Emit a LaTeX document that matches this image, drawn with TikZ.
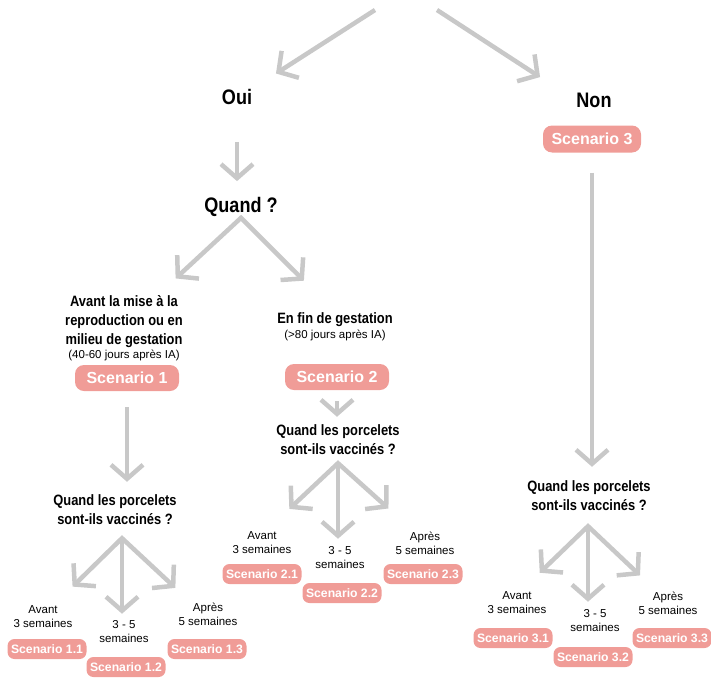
\documentclass[tikz,border=0pt]{standalone}
\usepackage{fontspec}
\setmainfont{Liberation Sans}
\newfontfamily\headfont[FakeStretch=0.86]{Liberation Sans}
\usetikzlibrary{positioning}
\usetikzlibrary{arrows.meta}
\definecolor{salmon}{HTML}{F09C97}
\definecolor{arrgray}{HTML}{C8C8C8}

\begin{document}
\begin{tikzpicture}[x=1pt,y=-1pt,
        head/.style={font=\headfont\bfseries\fontsize{21}{24}\selectfont, inner sep=1pt},
        quest/.style={font=\headfont\bfseries\fontsize{15}{19}\selectfont, align=center, inner sep=1pt},
        note/.style={font=\fontsize{11.5}{14}\selectfont, align=center, inner sep=1pt},
        scen/.style={rectangle,rounded corners=9pt,fill=salmon,text=white,font=\bfseries\fontsize{16}{16}\selectfont,minimum width=104pt,minimum height=26pt,inner sep=0pt},
        subscen/.style={scen,rounded corners=7pt,font=\bfseries\fontsize{12.2}{12}\selectfont,minimum width=79pt,minimum height=20pt},
        arr/.style={draw=arrgray,line width=4.5pt,-{Straight Barb[length=14pt,width=32pt]}},
        arrs/.style={arr,{Straight Barb[length=14pt,width=32pt]}-{Straight Barb[length=14pt,width=32pt]}}
        ]
        \useasboundingbox (0,0) rectangle (711,677);
        \node (oui) [head] at (237,97) {Oui};
        \node (non) [head] at (594,100) {Non};
        \node (sc3) [scen,minimum width=98pt,minimum height=27pt] at (592,139) {Scenario 3};
        \node (quand) [head] at (241,207) {Quand ?};
        \node (avant) [quest] at (124,322) {Avant la mise à la\\reproduction ou en\\milieu de gestation};
        \node (avnote) [note,below=0pt of avant] {(40-60 jours après IA)};
        \node (sc1) [scen] at (127,378) {Scenario 1};
        \node (fin) [quest] at (335,320) {En fin de gestation};
        \node (finnote) [note,below=1pt of fin] {(>80 jours après IA)};
        \node (sc2) [scen] at (337,377) {Scenario 2};
        \node (q1) [quest] at (115,510) {Quand les porcelets\\sont-ils vaccinés ?};
        \node (q2) [quest] at (338,440) {Quand les porcelets\\sont-ils vaccinés ?};
        \node (q3) [quest] at (589,496) {Quand les porcelets\\sont-ils vaccinés ?};
        \node (l11) [note] at (43,617) {Avant\\3 semaines};
        \node (l12) [note] at (124,632) {3 - 5\\semaines};
        \node (l13) [note] at (208,614) {Après\\5 semaines};
        \node (s11) [subscen] at (47,649) {Scenario 1.1};
        \node (s12) [subscen] at (126,667) {Scenario 1.2};
        \node (s13) [subscen] at (207,649) {Scenario 1.3};
        \node (l21) [note] at (262,543) {Avant\\3 semaines};
        \node (l22) [note] at (340,558) {3 - 5\\semaines};
        \node (l23) [note] at (425,543) {Après\\5 semaines};
        \node (s21) [subscen] at (262,574) {Scenario 2.1};
        \node (s22) [subscen] at (342,593) {Scenario 2.2};
        \node (s23) [subscen] at (423,574) {Scenario 2.3};
        \node (l31) [note] at (517,603) {Avant\\3 semaines};
        \node (l32) [note] at (595,621) {3 - 5\\semaines};
        \node (l33) [note] at (668,603) {Après\\5 semaines};
        \node (s31) [subscen] at (513,638) {Scenario 3.1};
        \node (s32) [subscen] at (593,657) {Scenario 3.2};
        \node (s33) [subscen] at (672,638) {Scenario 3.3};
        \coordinate (top1) at (375,10);
        \coordinate (top2) at (437,10);
        \coordinate (h1) at ([shift={(7pt,-12pt)}]q1.south);
        \coordinate (h2) at ([yshift=-7pt]q2.south);
        \coordinate (h3) at ([shift={(-1pt,-14pt)}]q3.south);
        \draw[arr,shorten >=27pt] (top1) -- (oui.north east);
        \draw[arr,shorten >=42pt] (top2) -- (non.west);
        \draw[arr,shorten <=36pt,shorten >=15pt] (oui.south) -- (oui.south |- quand.north);
        \draw[arrs,shorten <=24pt,shorten >=44pt] ([xshift=34pt]avant.north) -- (quand.south) -- (fin.north);
        \draw[arr,shorten <=16pt,shorten >=12pt] (sc1.south) -- (sc1.south |- q1.north);
        \draw[arr,shorten <=11pt,shorten >=7pt] (sc2.south) -- (sc2.south |- q2.north);
        \draw[arr,shorten <=20pt,shorten >=13pt] (sc3.south) -- (sc3.south |- q3.north);
        \draw[arrs,shorten <=26pt,shorten >=20pt] ([xshift=11pt]l11.north) -- (h1) -- ([xshift=-18pt]l13.north);
        \draw[arr,shorten >=6pt] (h1) -- (h1 |- l12.north);
        \draw[arrs,shorten <=32pt,shorten >=33pt] ([xshift=4pt]l21.north) -- (h2) -- ([xshift=-12pt]l23.north);
        \draw[arr,shorten >=7pt] (h2) -- (h2 |- l22.north);
        \draw[arrs,shorten <=26pt,shorten >=22pt] ([xshift=4pt]l31.north) -- (h3) -- ([xshift=-12pt]l33.north);
        \draw[arr,shorten >=7pt] (h3) -- (h3 |- l32.north);
\end{tikzpicture}
\end{document}
